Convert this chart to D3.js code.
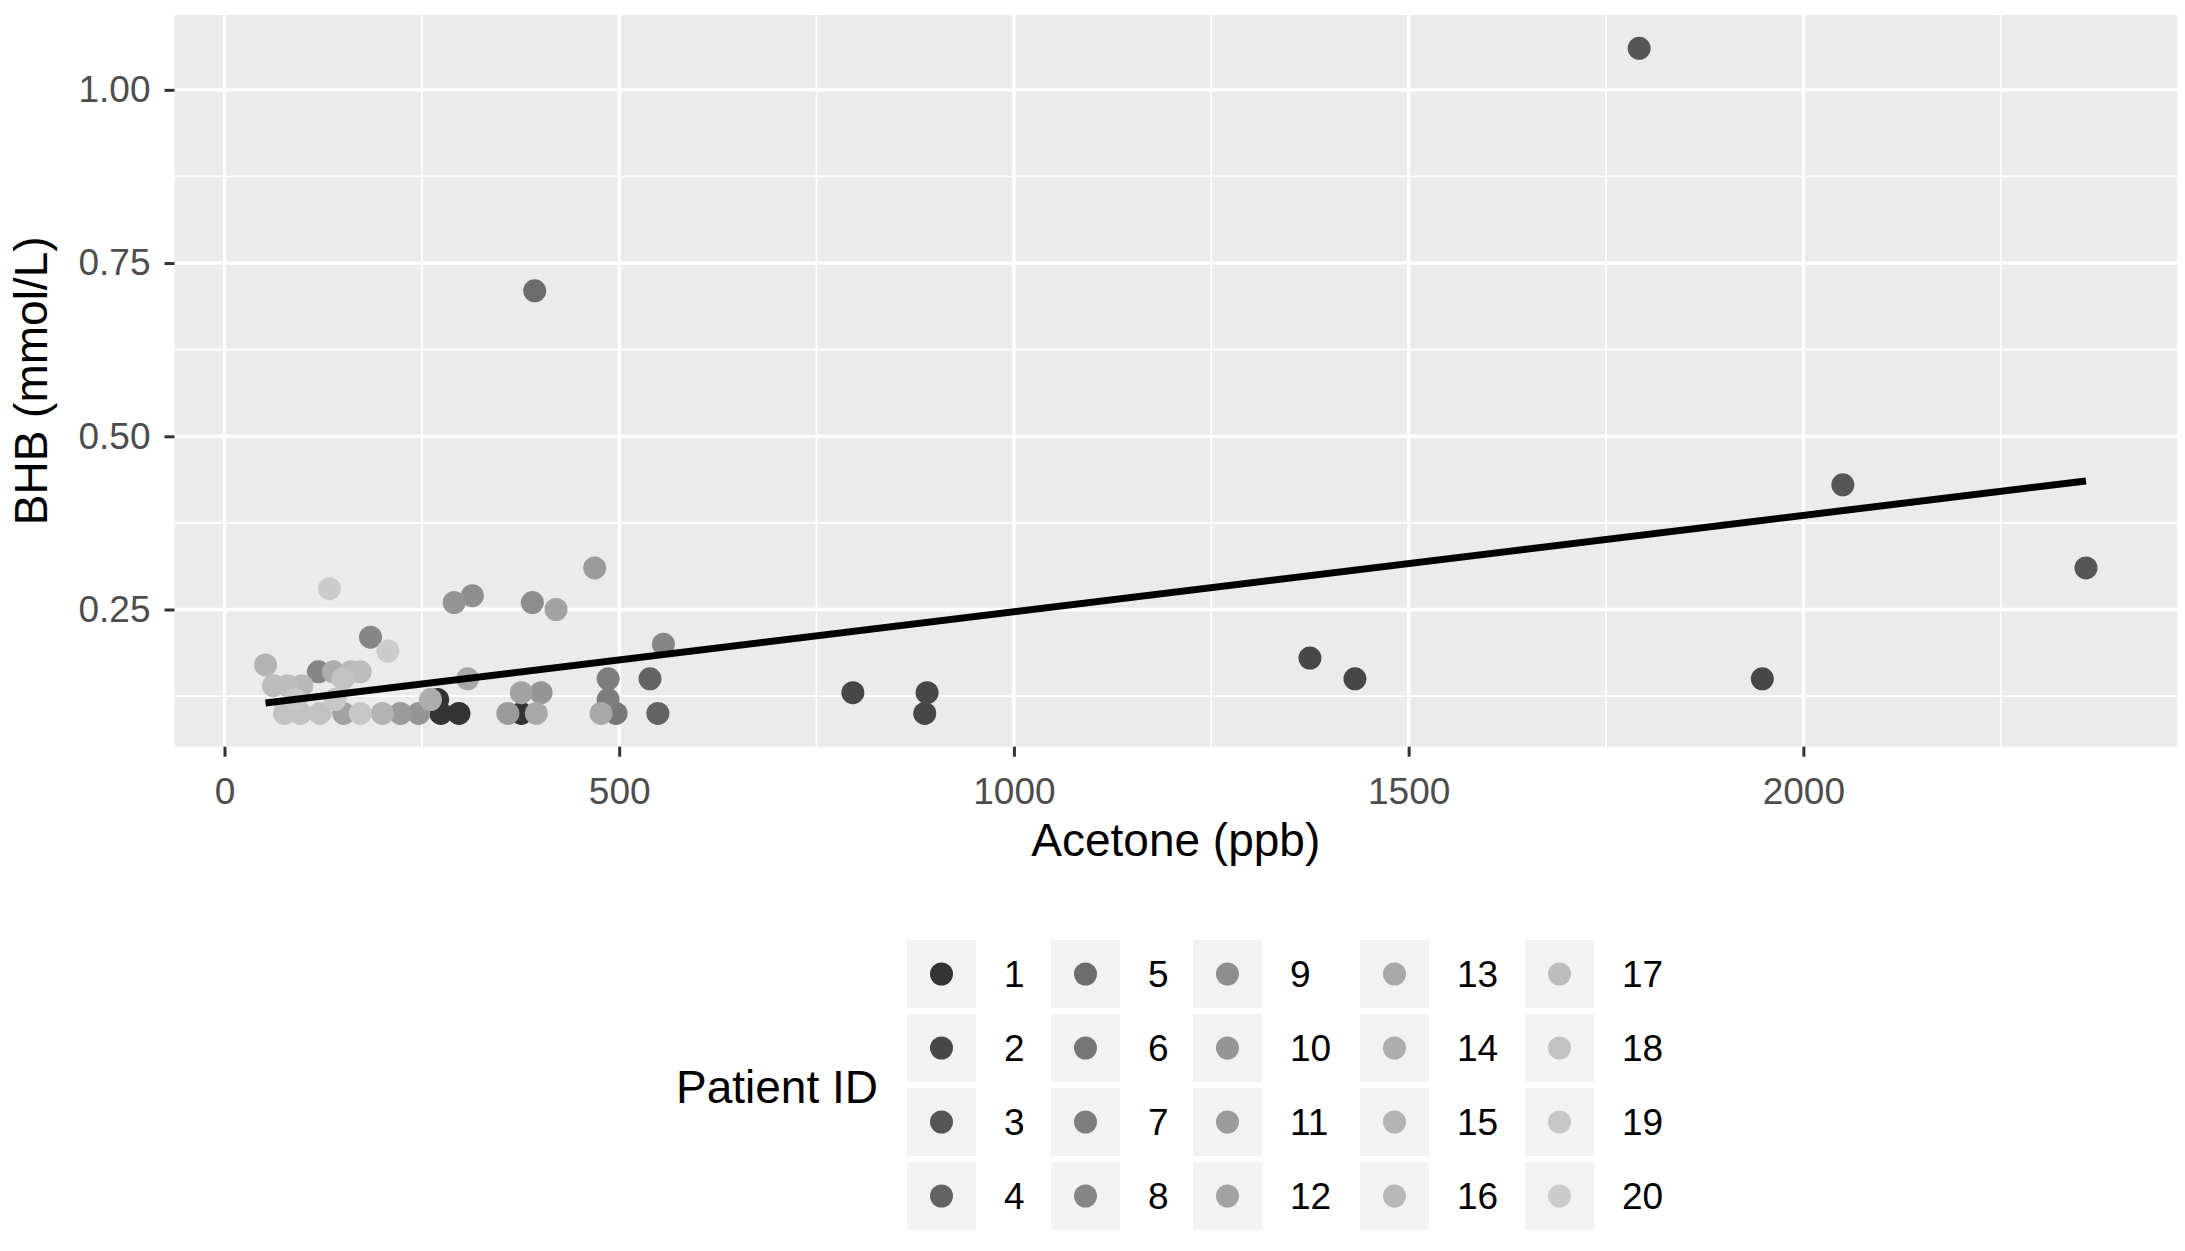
<!DOCTYPE html>
<html><head><meta charset="utf-8">
<script src="https://cdn.jsdelivr.net/npm/d3@7"></script>
<style>
body{margin:0;background:#fff}
svg{display:block}
text{font-family:"Liberation Sans",Arial,Helvetica,sans-serif}
</style>
</head><body>
<svg id="chart" width="2185" height="1251"></svg>
<script>
// ---- data ----
const acetone = [274,297,376,270, 796,887,890,1375,1432,1948, 1792,2050,2358, 539,549, 393, 496, 486,486,
  556,185,119, 314,390, 291,401,246, 469,359,223, 420,376,151, 308,395,477, 261,138, 52,200, 160,98,
  62,80,172, 76,96,121,150, 172,90,140, 133,207];
const bhb = [0.10,0.10,0.10,0.12, 0.13,0.10,0.13,0.18,0.15,0.15, 1.06,0.43,0.31, 0.15,0.10, 0.71, 0.10, 0.15,0.12,
  0.20,0.21,0.16, 0.27,0.26, 0.26,0.13,0.10, 0.31,0.10,0.10, 0.25,0.13,0.10, 0.15,0.10,0.10, 0.12,0.16, 0.17,0.10, 0.16,0.14,
  0.14,0.14,0.16, 0.10,0.10,0.10,0.15, 0.10,0.12,0.12, 0.28,0.19];
const patient = [1,1,1,1, 2,2,2,2,2,2, 3,3,3, 4,4, 5, 6, 7,7,
  8,8,8, 9,9, 10,10,10, 11,11,11, 12,12,12, 13,13,13, 14,14, 15,15, 16,16,
  17,17,17, 18,18,18,18, 19,19,19, 20,20];
const patientLabels = ["1","2","3","4","5","6","7","8","9","10","11","12","13","14","15","16","17","18","19","20"];
const xTicks = [0,500,1000,1500,2000];
const xMinor = [250,750,1250,1750,2250];
const yTicks = [0.25,0.50,0.75,1.00];
const yMinor = [0.125,0.375,0.625,0.875];
// linear fit (geom_smooth lm)
const fitIntercept = 0.1078;
const fitSlope = 0.000139;

const points = acetone.map((a,i)=>({x:a, y:bhb[i], p:patient[i]}));

// ---- layout ----
const svg = d3.select("#chart");
const P = {left:174.5, right:2177, top:15, bottom:746.7};

const xExt = d3.extent(acetone), yExt = d3.extent(bhb);
const xPad = (xExt[1]-xExt[0])*0.05, yPad = (yExt[1]-yExt[0])*0.05;
const x = d3.scaleLinear().domain([xExt[0]-xPad, xExt[1]+xPad]).range([P.left, P.right]);
const y = d3.scaleLinear().domain([yExt[0]-yPad, yExt[1]+yPad]).range([P.bottom, P.top]);

// grey palette like scale_colour_grey(start=0.2,end=0.8)
function greyLevel(i, n){
  const g=2.2, s=Math.pow(0.2,g), e=Math.pow(0.8,g);
  const v = Math.pow(s + (e-s)*i/(n-1), 1/g);
  const c = Math.round(v*255);
  return d3.rgb(c,c,c).formatHex();
}
const color = d3.scaleOrdinal().domain(d3.range(1,21)).range(d3.range(20).map(i=>greyLevel(i,20)));

// panel
svg.append("rect").attr("x",P.left).attr("y",P.top).attr("width",P.right-P.left).attr("height",P.bottom-P.top).attr("fill","#ebebeb");

const grid = svg.append("g");
grid.selectAll(".ymin").data(yMinor).enter().append("line")
  .attr("x1",P.left).attr("x2",P.right).attr("y1",d=>y(d)).attr("y2",d=>y(d))
  .attr("stroke","#fff").attr("stroke-width",1.7);
grid.selectAll(".xmin").data(xMinor).enter().append("line")
  .attr("y1",P.top).attr("y2",P.bottom).attr("x1",d=>x(d)).attr("x2",d=>x(d))
  .attr("stroke","#fff").attr("stroke-width",1.7);
grid.selectAll(".ymaj").data(yTicks).enter().append("line")
  .attr("x1",P.left).attr("x2",P.right).attr("y1",d=>y(d)).attr("y2",d=>y(d))
  .attr("stroke","#fff").attr("stroke-width",3.3);
grid.selectAll(".xmaj").data(xTicks).enter().append("line")
  .attr("y1",P.top).attr("y2",P.bottom).attr("x1",d=>x(d)).attr("x2",d=>x(d))
  .attr("stroke","#fff").attr("stroke-width",3.3);

// points
svg.append("g").selectAll("circle").data(points).enter().append("circle")
  .attr("cx",d=>x(d.x)).attr("cy",d=>y(d.y)).attr("r",11.5)
  .attr("fill",d=>color(d.p));

// fit line
const fitData = xExt.map(v=>({x:v, y:fitIntercept+fitSlope*v}));
svg.append("path").datum(fitData)
  .attr("d", d3.line().x(d=>x(d.x)).y(d=>y(d.y)))
  .attr("stroke","#000").attr("stroke-width",7).attr("fill","none");

// axes
const xAxis = svg.append("g").attr("transform",`translate(0,${P.bottom})`)
  .call(d3.axisBottom(x).tickValues(xTicks).tickFormat(d3.format("d")).tickSize(10).tickPadding(12));
const yAxis = svg.append("g").attr("transform",`translate(${P.left},0)`)
  .call(d3.axisLeft(y).tickValues(yTicks).tickFormat(d3.format(".2f")).tickSize(10).tickPadding(14));
[xAxis,yAxis].forEach(a=>{
  a.select(".domain").remove();
  a.selectAll(".tick line").attr("stroke","#333").attr("stroke-width",3);
  a.selectAll(".tick text").attr("fill","#4d4d4d").attr("font-size",37)
   .attr("font-family",'"Liberation Sans",Arial,sans-serif');
});
xAxis.selectAll(".tick text").attr("dy","0.95em");

// axis titles
svg.append("text").attr("x",(P.left+P.right)/2).attr("y",856).attr("text-anchor","middle")
  .attr("font-size",46).attr("fill","#000").text("Acetone (ppb)");
svg.append("text").attr("transform",`translate(47,${(P.top+P.bottom)/2}) rotate(-90)`)
  .attr("text-anchor","middle").attr("font-size",46).attr("fill","#000").text("BHB (mmol/L)");

// legend
const leg = svg.append("g");
leg.append("text").attr("x",676).attr("y",1087).attr("dy","0.35em").attr("font-size",46)
  .attr("fill","#000").text("Patient ID");
const colX = [907,1051,1193,1360,1525];
const rowY = [940,1014,1088,1162];
const keyW = 69, keyH = 68;
patientLabels.forEach((lab,i)=>{
  const c = Math.floor(i/4), r = i%4;
  const g = leg.append("g").attr("transform",`translate(${colX[c]},${rowY[r]})`);
  g.append("rect").attr("width",keyW).attr("height",keyH).attr("fill","#f2f2f2");
  g.append("circle").attr("cx",keyW/2).attr("cy",keyH/2).attr("r",11.5).attr("fill",color(i+1));
  g.append("text").attr("x",keyW+28).attr("y",keyH/2).attr("dy","0.36em").attr("font-size",37)
   .attr("fill","#000").text(lab);
});
</script>
</body></html>
